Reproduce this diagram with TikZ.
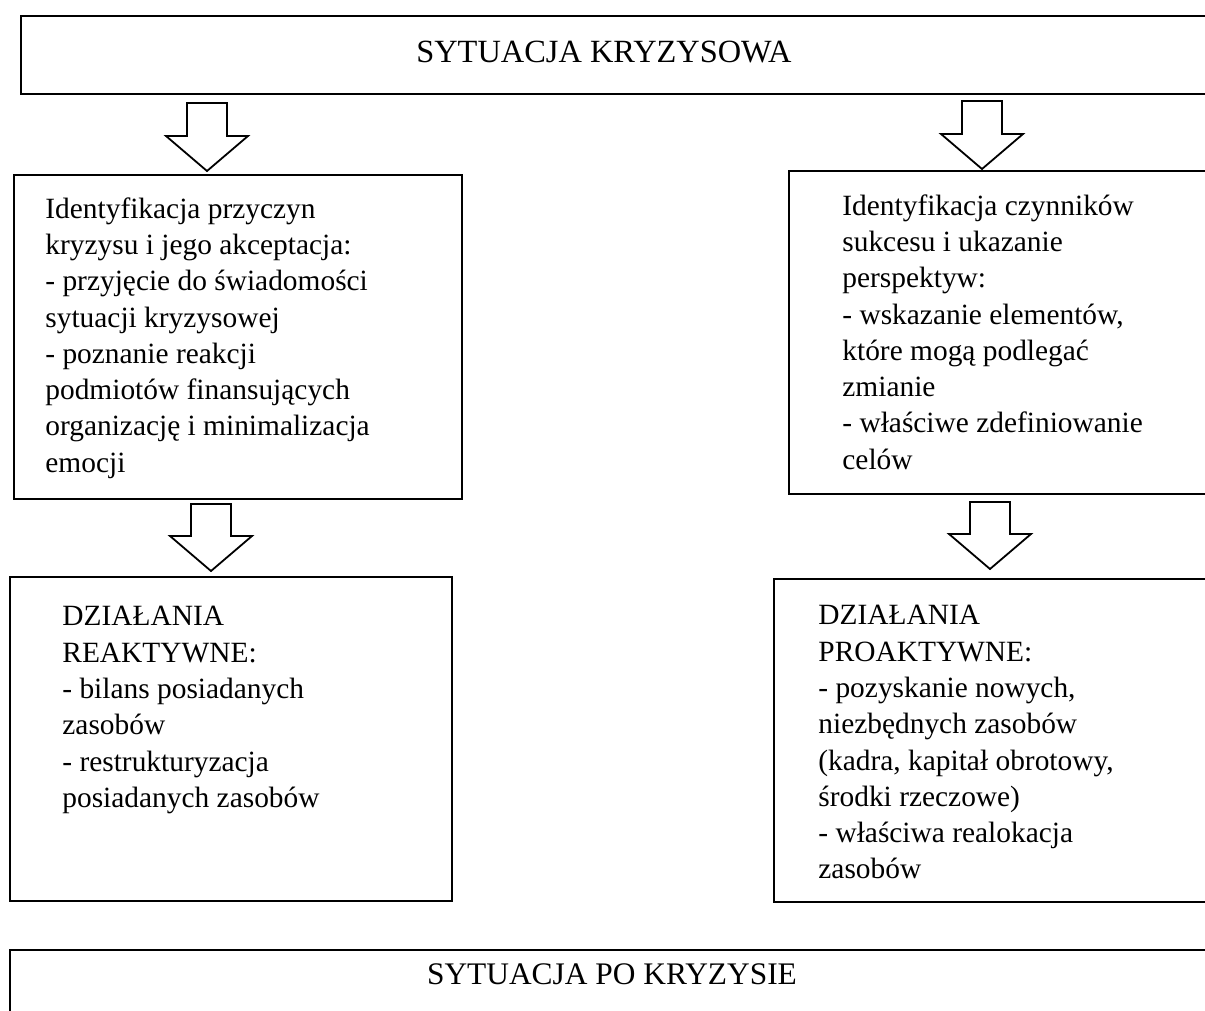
\documentclass[tikz,border=0pt]{standalone}
\usepackage{fontspec}
\setmainfont{Liberation Serif}
\usetikzlibrary{calc}

% strzałka blokowa: #1 = początek, #2 = grot
\newcommand{\hollowarrow}[2]{%
  \draw[blockarr] ($(#1)+(-20,0)$) -- ($(#1)+(20,0)$) -- ($(#2)+(20,-35)$) -- ($(#2)+(41,-35)$)
    -- (#2) -- ($(#2)+(-41,-35)$) -- ($(#2)+(-20,-35)$) -- cycle;}

\begin{document}
\begin{tikzpicture}[x=0.5pt, y=-0.5pt,
	box/.style={draw, line width=1pt, rectangle, anchor=north west, inner sep=0pt},
	txt/.style={anchor=north west, inner sep=0pt, align=left, font=\fontsize{14.7}{18.15}\selectfont},
	title/.style={anchor=base, inner sep=0pt, font=\fontsize{15.7}{18.15}\selectfont},
	blockarr/.style={draw, line width=0.9pt, fill=white, line join=miter}]
		\clip (0,0) rectangle (1205,1011);
		
		% Sytuacja kryzysowa
		\node[box, minimum width=600pt, minimum height=39pt] (sk) at (20,15) {};
		\node[title, font=\fontsize{16.2}{18.15}\selectfont] (skt) at (604,63) {SYTUACJA KRYZYSOWA};
		
		% Lewa kolumna
		\node[box, minimum width=224pt, minimum height=162pt] (lmid) at (13,174) {};
		\node[txt] (lmidt) at (45,197) {Identyfikacja przyczyn\\kryzysu i jego akceptacja:\\- przyjęcie do świadomości\\sytuacji kryzysowej\\- poznanie reakcji\\podmiotów finansujących\\organizację i minimalizacja\\emocji};
		\node[box, minimum width=221pt, minimum height=162pt] (lbot) at (9,576) {};
		\node[txt] (lbott) at (62,606) {DZIAŁANIA\\REAKTYWNE:\\- bilans posiadanych\\zasobów\\- restrukturyzacja\\posiadanych zasobów};
		
		% Prawa kolumna
		\node[box, minimum width=220pt, minimum height=161.5pt] (rmid) at (788,170) {};
		\node[txt] (rmidt) at (842,194) {Identyfikacja czynników\\sukcesu i ukazanie\\perspektyw:\\- wskazanie elementów,\\które mogą podlegać\\zmianie\\- właściwe zdefiniowanie\\celów};
		\node[box, minimum width=240pt, minimum height=161.5pt] (rbot) at (773,578) {};
		\node[txt] (rbott) at (818,605) {DZIAŁANIA\\PROAKTYWNE:\\- pozyskanie nowych,\\niezbędnych zasobów\\(kadra, kapitał obrotowy,\\środki rzeczowe)\\- właściwa realokacja\\zasobów};
		
		% Sytuacja po kryzysie
		\node[box, minimum width=610pt, minimum height=60pt] (pk) at (9,949) {};
		\node[title] (pkt) at (612,984) {SYTUACJA PO KRYZYSIE};
		
		% Strzałki
		\hollowarrow{$(207,0 |- sk.south)+(0,8)$}{$(207,0 |- lmid.north)+(0,-3)$}
		\hollowarrow{$(982,0 |- sk.south)+(0,6)$}{$(982,0 |- rmid.north)+(0,-1)$}
		\hollowarrow{$(211,0 |- lmid.south)+(0,4)$}{$(211,0 |- lbot.north)+(0,-5)$}
		\hollowarrow{$(990,0 |- rmid.south)+(0,7)$}{$(990,0 |- rbot.north)+(0,-9)$}
\end{tikzpicture}
\end{document}
